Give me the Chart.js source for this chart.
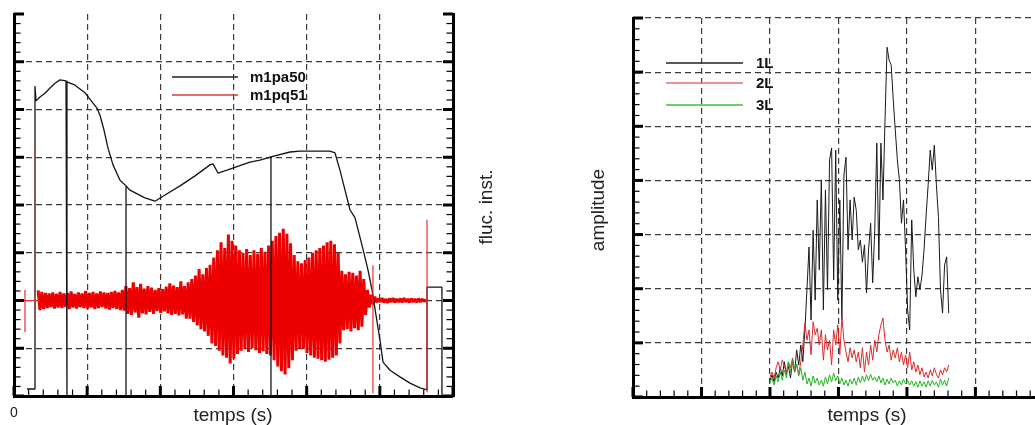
<!DOCTYPE html>
<html>
<head>
<meta charset="utf-8">
<script src="https://cdn.jsdelivr.net/npm/chart.js@4.4.0/dist/chart.umd.min.js"></script>
<style>
  html, body { margin: 0; padding: 0; background: #fff; overflow: hidden; }
  #left { position: absolute; left: 0; top: 0; }
  #right { position: absolute; left: 520px; top: 0; }
</style>
</head>
<body>
<canvas id="left" width="520" height="425"></canvas>
<canvas id="right" width="515" height="425"></canvas>
<script>
// ---- left panel : m1pa50 / m1pq51 ----
const blackPts = [
  [0.178,0.147],[0.287,0.147],[0.287,6.49],[0.301,6.18],[0.355,6.26],[0.424,6.34],[0.492,6.45],
  [0.560,6.55],[0.629,6.62],[0.711,6.60],[0.724,6.59],[0.724,0],[0.724,6.58],[0.834,6.51],
  [0.970,6.35],[1.134,6.03],[1.175,5.88],[1.230,5.57],[1.285,5.19],[1.353,4.84],[1.449,4.52],
  [1.531,4.40],[1.531,0],[1.531,4.40],[1.585,4.31],[1.790,4.15],[1.927,4.08],[2.064,4.21],
  [2.269,4.40],[2.474,4.61],[2.679,4.84],[2.720,4.86],[2.788,4.67],[2.911,4.73],[3.225,4.90],
  [3.362,4.94],[3.512,5.01],[3.512,0],[3.512,5.01],[3.772,5.11],[3.909,5.13],[4.319,5.13],
  [4.387,5.09],[4.455,4.73],[4.524,4.31],[4.592,3.90],[4.661,3.73],[4.756,3.16],[4.838,2.64],
  [4.893,2.22],[4.947,1.70],[5.002,1.17],[5.044,0.71],[5.139,0.54],[5.275,0.40],[5.412,0.27],
  [5.549,0.17],[5.645,0.13],[5.645,2.28],[5.849,2.28],[5.849,0]
];
const redLead = [[0,2.0],[0.34,2.0]];
const redT0 = 0.33;
const redDt = 0.025;
const redVals = [
  2.21,1.80,2.18,1.82,2.16,
  1.84,2.15,1.86,2.17,1.83,2.14,1.85,2.18,1.84,2.15,1.87,2.16,1.82,2.19,1.85,2.14,1.83,2.17,1.86,2.15,1.84,2.20,
  1.83,2.16,1.85,2.18,1.82,2.15,1.84,2.19,1.86,2.17,1.83,2.16,1.81,2.18,1.84,2.20,1.82,2.17,1.80,2.22,1.79,
  2.30,1.72,2.26,1.70,2.38,1.75,2.28,1.64,2.35,1.73,2.25,1.71,2.30,1.76,2.27,1.72,2.22,1.78,2.26,1.74,
  2.24,1.77,2.29,1.73,2.36,1.70,2.31,1.72,2.28,1.69,2.40,1.71,2.30,1.62,2.38,1.62,
  2.45,1.55,2.52,1.48,2.66,1.40,2.55,1.35,2.68,1.26,2.75,
  1.10,2.90,1.05,3.05,0.95,3.22,0.85,3.10,0.80,3.38,0.68,3.25,0.78,3.15,0.88,3.05,
  0.95,3.00,0.98,3.08,0.92,2.95,1.00,3.05,0.96,2.98,0.90,3.10,0.94,3.02,0.88,3.15,0.85,
  3.25,0.75,3.35,0.62,3.42,0.52,3.50,0.45,3.40,0.58,3.20,0.75,
  2.95,0.95,2.82,1.00,2.78,0.98,2.85,0.90,2.90,0.85,3.00,0.80,
  3.05,0.78,3.10,0.75,3.15,0.72,3.22,0.76,3.25,0.80,3.18,0.85,3.00,1.10,
  2.62,1.38,2.55,1.40,2.60,1.35,2.58,1.42,2.52,1.38,2.62,1.45,2.45,
  1.70,2.22,1.85,2.12,1.92,2.08,
  1.96,2.04,1.97,2.05,1.96,2.03,1.95,2.04,1.97,2.05,1.96,2.03,1.97,2.04,
  1.96,2.05,1.97,2.03,1.96,2.04,1.97,2.03,1.96,2.04,1.97,2.03,1.98,2.02
];
// [x, top, bottom]
const redSpikes = [[0.15,2.22,1.34],[0.292,5.32,1.34],[4.906,2.74,0.06],[5.645,3.69,0.08]];

// ---- right panel : 1L / 2L / 3L ----
const ampT0 = 2.0;
const ampDt = 0.03;
const amp1L = [
  0.31,0.41,0.28,0.46,0.35,0.54,0.39,0.65,0.42,0.57,0.35,0.68,0.46,0.87,0.59,0.96,0.65,1.24,1.98,2.77,
  1.42,3.08,1.79,3.64,2.35,4.01,1.61,3.82,1.98,4.38,4.60,2.16,4.56,1.79,3.64,1.42,4.10,4.43,2.72,3.64,
  2.90,3.69,3.45,2.72,2.90,2.49,2.81,1.92,2.72,3.21,2.11,3.08,4.69,2.53,4.69,3.64,5.12,6.46,6.22,6.13,
  5.49,4.93,4.38,4.01,3.21,3.64,2.72,1.61,1.24,3.27,2.35,1.85,2.22,1.98,2.25,2.72,3.36,3.92,4.56,4.19,
  4.65,3.92,3.32,1.98,1.55,2.44,2.59,1.55
];
const amp2L = [
  0.37,0.46,0.35,0.54,0.65,0.50,0.68,0.57,0.46,0.65,0.54,0.72,0.46,0.59,0.41,0.65,0.96,1.37,1.05,1.24,
  0.78,1.39,1.15,1.27,0.96,1.24,0.68,1.15,0.87,1.05,0.59,1.24,0.96,1.33,0.78,1.48,1.05,0.83,0.65,0.91,
  0.72,0.87,0.65,0.83,0.54,0.91,0.46,0.83,0.59,0.96,0.68,1.05,0.83,1.15,1.33,1.46,1.05,0.83,0.96,0.68,
  0.87,0.72,0.91,0.65,0.83,0.59,0.78,0.54,0.83,0.50,0.65,0.46,0.59,0.41,0.54,0.37,0.46,0.35,0.50,0.39,
  0.54,0.42,0.35,0.50,0.41,0.54,0.46,0.59
];
const amp3L = [
  0.26,0.35,0.22,0.39,0.28,0.46,0.31,0.50,0.35,0.65,0.46,0.68,0.50,0.61,0.39,0.54,0.31,0.46,0.24,0.35,
  0.20,0.39,0.26,0.35,0.22,0.31,0.20,0.37,0.24,0.41,0.28,0.44,0.30,0.39,0.24,0.35,0.22,0.31,0.20,0.33,
  0.24,0.35,0.22,0.37,0.26,0.39,0.28,0.41,0.30,0.42,0.31,0.37,0.28,0.39,0.26,0.35,0.22,0.33,0.24,0.35,
  0.26,0.31,0.20,0.30,0.22,0.33,0.24,0.31,0.22,0.30,0.20,0.28,0.18,0.30,0.20,0.28,0.18,0.30,0.20,0.31,
  0.22,0.28,0.18,0.33,0.22,0.31,0.20,0.35
];

const FONT = '"Liberation Sans", Arial, sans-serif';
const gridCol = '#3c3c3c';

// build line data
const blackData = blackPts.map(p => ({ x: p[0], y: p[1] }));
const redData = redVals.map((v, i) => ({ x: redT0 + i * redDt, y: v }));
const spikeData = redLead.map(p => ({ x: p[0], y: p[1] }));
spikeData.push({ x: redLead[redLead.length - 1][0], y: null });
redSpikes.forEach(s => {
  spikeData.push({ x: s[0], y: s[1] }, { x: s[0], y: s[2] }, { x: s[0], y: null });
});
const toXY = arr => arr.map((v, i) => ({ x: ampT0 + i * ampDt, y: v }));

// short inward ticks (minor every 0.2, major every 1)
function inwardTicks(axes) {
  return {
    id: 'inwardTicks',
    afterDraw(chart) {
      const ctx = chart.ctx, a = chart.chartArea;
      ctx.save();
      ctx.strokeStyle = '#000';
      axes.forEach(ax => {
        const s = chart.scales[ax.scale];
        const k0 = Math.ceil(s.min / 0.2 - 1e-6), k1 = Math.floor(s.max / 0.2 + 1e-6);
        for (let k = k0; k <= k1; k++) {
          const major = k % 5 === 0;
          const len = major ? 10 : 6.5;
          ctx.lineWidth = major ? 3 : 1.2;
          const p = s.getPixelForValue(k * 0.2);
          ctx.beginPath();
          if (ax.side === 'left') { ctx.moveTo(a.left, p); ctx.lineTo(a.left + len, p); }
          if (ax.side === 'right') { ctx.moveTo(a.right, p); ctx.lineTo(a.right - len, p); }
          if (ax.side === 'bottom') { ctx.moveTo(p, a.bottom); ctx.lineTo(p, a.bottom - len); }
          ctx.stroke();
        }
      });
      ctx.restore();
    }
  };
}

function textPlugin(draw) {
  return { id: 'texts', afterDraw(chart) { const ctx = chart.ctx; ctx.save(); draw(ctx); ctx.restore(); } };
}

function legendRow(ctx, x1, x2, y, col, label, tx) {
  ctx.strokeStyle = col;
  ctx.lineWidth = 1.3;
  ctx.beginPath(); ctx.moveTo(x1, y); ctx.lineTo(x2, y); ctx.stroke();
  ctx.fillStyle = '#111';
  ctx.font = 'bold 15px ' + FONT;
  ctx.textAlign = 'left';
  ctx.textBaseline = 'alphabetic';
  ctx.fillText(label, tx, y + 5);
}

function vText(ctx, txt, x, y) {
  ctx.translate(x, y);
  ctx.rotate(-Math.PI / 2);
  ctx.textAlign = 'center';
  ctx.textBaseline = 'alphabetic';
  ctx.fillText(txt, 0, 0);
  ctx.setTransform(1, 0, 0, 1, 0, 0);
}

const noFitX = s => { s.height = 0; };
const noFitY = s => { s.width = 0; };

function gridColor(lo, hi) {
  return c => (c.tick && c.tick.value > lo + 1e-6 && c.tick.value < hi - 1e-6) ? gridCol : 'rgba(0,0,0,0)';
}

const lineDefaults = { pointRadius: 0, tension: 0, fill: false, borderJoinStyle: 'bevel' };

new Chart(document.getElementById('left'), {
  type: 'line',
  data: {
    datasets: [
      Object.assign({ label: 'spikes', data: spikeData, borderColor: '#e83030', borderWidth: 1.2, order: 1 }, lineDefaults),
      Object.assign({ label: 'm1pa50', data: blackData, borderColor: '#151515', borderWidth: 1.3, order: 2 }, lineDefaults),
      Object.assign({ label: 'm1pq51', data: redData, borderColor: '#ee0000', borderWidth: 3, order: 3 }, lineDefaults)
    ]
  },
  options: {
    responsive: false,
    animation: false,
    devicePixelRatio: 1,
    layout: { padding: { left: 14, top: 14, right: 67, bottom: 29 } },
    plugins: { legend: { display: false }, tooltip: { enabled: false } },
    scales: {
      x: {
        type: 'linear', min: 0, max: 6, afterFit: noFitX,
        ticks: { display: false, stepSize: 1 },
        grid: { color: gridColor(0, 6), lineWidth: 1.2, drawTicks: false },
        border: { display: true, width: 3, color: '#000', dash: [6, 4] }
      },
      y: {
        min: 0, max: 8, afterFit: noFitY,
        ticks: { display: false, stepSize: 1 },
        grid: { color: gridColor(0, 8), lineWidth: 1.2, drawTicks: false },
        border: { display: true, width: 3, color: '#000', dash: [6, 4] }
      },
      y2: {
        position: 'right', min: 0, max: 8, afterFit: noFitY,
        ticks: { display: false, stepSize: 1 },
        grid: { display: false },
        border: { display: true, width: 3, color: '#000' }
      }
    }
  },
  plugins: [
    inwardTicks([{ scale: 'y', side: 'left' }, { scale: 'y2', side: 'right' }, { scale: 'x', side: 'bottom' }]),
    textPlugin(ctx => {
      legendRow(ctx, 172, 238, 77, '#222', 'm1pa50', 250);
      legendRow(ctx, 172, 238, 95, '#d43a3a', 'm1pq51', 250);
      ctx.fillStyle = '#222';
      ctx.font = '14px ' + FONT;
      ctx.textAlign = 'center';
      ctx.fillText('0', 14, 417);
      ctx.font = '19px ' + FONT;
      ctx.fillText('temps (s)', 233, 421);
      vText(ctx, 'fluc. inst.', 492, 207);
    })
  ]
});

new Chart(document.getElementById('right'), {
  type: 'line',
  data: {
    datasets: [
      Object.assign({ label: '1L', data: toXY(amp1L), borderColor: '#1a1a1a', borderWidth: 1, order: 3 }, lineDefaults),
      Object.assign({ label: '2L', data: toXY(amp2L), borderColor: '#e02a2a', borderWidth: 1, order: 2 }, lineDefaults),
      Object.assign({ label: '3L', data: toXY(amp3L), borderColor: '#22b522', borderWidth: 1, order: 1 }, lineDefaults)
    ]
  },
  options: {
    responsive: false,
    animation: false,
    devicePixelRatio: 1,
    layout: { padding: { left: 113, top: 18, right: 0, bottom: 28 } },
    plugins: { legend: { display: false }, tooltip: { enabled: false } },
    scales: {
      x: {
        type: 'linear', min: 0, max: 5.87, afterFit: noFitX,
        ticks: { display: false, stepSize: 1, includeBounds: false },
        grid: { color: gridColor(0, 5.87), lineWidth: 1.2, drawTicks: false },
        border: { display: true, width: 3, color: '#000', dash: [6, 4] }
      },
      y: {
        min: 0, max: 7, afterFit: noFitY,
        ticks: { display: false, stepSize: 1 },
        grid: { color: gridColor(0, 7.5), lineWidth: 1.2, drawTicks: false },
        border: { display: true, width: 3, color: '#000', dash: [6, 4] }
      }
    }
  },
  plugins: [
    inwardTicks([{ scale: 'y', side: 'left' }, { scale: 'x', side: 'bottom' }]),
    textPlugin(ctx => {
      legendRow(ctx, 146, 223, 63, '#222', '1L', 236);
      legendRow(ctx, 146, 223, 83, '#e07070', '2L', 236);
      legendRow(ctx, 146, 223, 105, '#3cbf3c', '3L', 236);
      ctx.fillStyle = '#222';
      ctx.font = '19px ' + FONT;
      ctx.textAlign = 'center';
      ctx.fillText('temps (s)', 347, 421);
      vText(ctx, 'amplitude', 84, 210);
    })
  ]
});
</script>
</body>
</html>
